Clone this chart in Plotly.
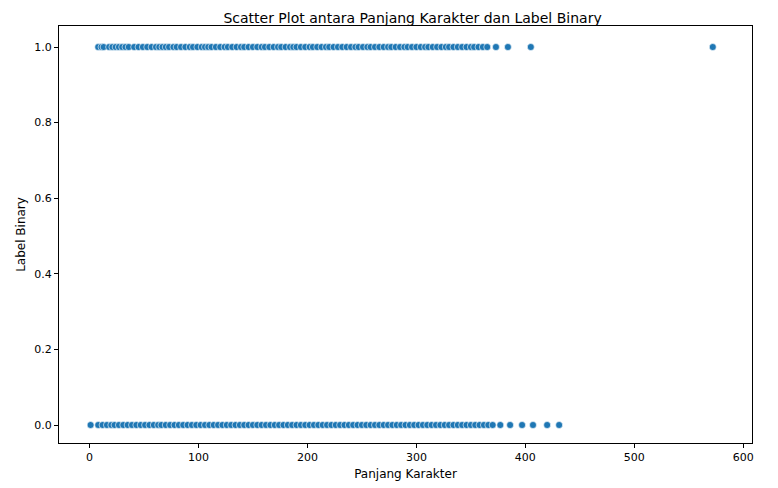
import plotly.graph_objects as go

# panjang karakter untuk label 1
len_label1 = [8, 11, 13, 18, 21, 24, 27, 30, 33, 36, 41, 45, 49, 53, 57, 61, 64, 67, 70, 73,
              77, 80, 84, 88, 92, 95, 99, 103, 106, 109, 112, 116, 120, 124, 127, 131, 135,
              139, 142, 146, 150, 154, 158, 161, 165, 169, 173, 176, 180, 184, 187, 190, 194,
              198, 202, 205, 209, 213, 217, 220, 224, 228, 232, 236, 240, 244, 247, 251, 255,
              258, 262, 266, 270, 274, 277, 281, 285, 289, 292, 296, 300, 304, 308, 311, 315,
              319, 323, 327, 330, 334, 338, 342, 346, 350, 353, 357, 361, 365, 373, 384, 405, 572]
# panjang karakter untuk label 0
len_label0 = [1, 8, 12, 16, 20, 23, 27, 31, 35, 39, 43, 47, 51, 55, 59, 63, 66, 70, 74, 78,
              82, 86, 90, 94, 98, 102, 106, 110, 114, 118, 122, 126, 130, 134, 138, 142, 146,
              150, 154, 158, 162, 166, 170, 174, 178, 182, 186, 190, 194, 198, 202, 206, 210,
              214, 218, 222, 226, 230, 234, 238, 242, 246, 250, 254, 258, 262, 266, 270, 274,
              278, 282, 286, 290, 294, 298, 302, 306, 310, 314, 318, 322, 326, 330, 334, 338,
              342, 346, 350, 354, 358, 362, 366, 370, 377, 386, 397, 407, 420, 431]

x_vals = len_label1 + len_label0
y_vals = [1] * len(len_label1) + [0] * len(len_label0)

fig = go.Figure()
fig.add_trace(go.Scatter(x=x_vals, y=y_vals, mode='markers',
                         marker=dict(color='#1f77b4', size=7, line=dict(color='white', width=0.6))))

axis_style = dict(showgrid=False, zeroline=False, showline=True, linecolor='black', mirror=True,
                  ticks='outside', ticklen=4, tickcolor='black', tickfont=dict(size=11, color='black'))
fig.update_layout(
    width=778, height=488, template='plotly_white', showlegend=False,
    margin=dict(l=44, r=34, t=18, b=53),
    font=dict(family='DejaVu Sans', color='black'),
    title=dict(text='Scatter Plot antara Panjang Karakter dan Label Binary', x=0.52, y=0.99,
               xanchor='center', yanchor='top', font=dict(size=14)),
    xaxis=dict(axis_style, range=[-28, 608], tickvals=[0, 100, 200, 300, 400, 500, 600],
               title=dict(text='Panjang Karakter', font=dict(size=12), standoff=6)),
    yaxis=dict(axis_style, range=[-0.0476, 1.0556], tickvals=[0, 0.2, 0.4, 0.6, 0.8, 1.0],
               tickformat='.1f', title=dict(text='Label Binary', font=dict(size=12), standoff=6)),
)
fig.write_html("out.html")
